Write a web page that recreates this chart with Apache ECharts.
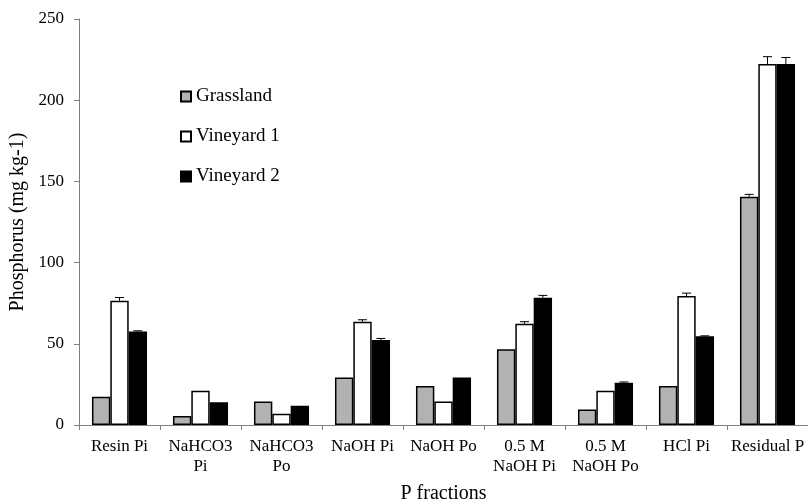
<!DOCTYPE html>
<html>
<head>
<meta charset="utf-8">
<script src="https://cdn.jsdelivr.net/npm/echarts@6/dist/echarts.min.js"></script>
<style>
    html, body { margin: 0; padding: 0; background: #fff; }
    #chart { width: 808px; height: 504px; }
</style>
</head>
<body>
<div id="chart"></div>
<script>
// P fractions
var categories = ["Resin Pi", "NaHCO3\nPi", "NaHCO3\nPo", "NaOH Pi", "NaOH Po",
    "0.5 M\nNaOH Pi", "0.5 M\nNaOH Po", "HCl Pi", "Residual P"];
var seriesNames = ["Grassland", "Vineyard 1", "Vineyard 2"];
var grassland = [17.4, 5.5, 14.4, 29.3, 24.0, 46.6, 9.6, 24.0, 140.6];
var vineyard1 = [76.5, 21.1, 7.0, 63.6, 14.4, 62.4, 21.1, 79.4, 222.3];
var vineyard2 = [57.5, 14.0, 11.9, 52.3, 29.3, 78.4, 26.0, 54.6, 222.3];
// error bars (upper only)
var grasslandErr = [0, 0, 0, 0, 0, 0, 0, 0, 1.4];
var vineyard1Err = [2.0, 0, 0, 1.2, 0, 1.2, 0, 1.8, 4.5];
var vineyard2Err = [0.5, 0, 0, 1.0, 0, 1.4, 0.5, 0.3, 4.0];
var yTicks = [0, 50, 100, 150, 200, 250];

(function () {
    var myChart = echarts.init(document.getElementById("chart"));
    var font = "Liberation Serif";
    var colors = ["#b2b2b2", "#ffffff", "#000000"];
    var values = [grassland, vineyard1, vineyard2];
    var errs = [grasslandErr, vineyard1Err, vineyard2Err];
    var catGap = 0.32;

    var series = [];
    values.forEach(function (vals, i) {
        series.push({
            name: seriesNames[i],
            type: "bar",
            data: vals,
            barGap: "0%",
            barCategoryGap: "32%",
            itemStyle: { color: colors[i], borderColor: "#000", borderWidth: 1.5 }
        });
    });
    // 误差线
    values.forEach(function (vals, i) {
        var data = [];
        vals.forEach(function (v, j) {
            if (errs[i][j] > 0) data.push([j, v, v + errs[i][j]]);
        });
        series.push({
            type: "custom",
            z: 5,
            silent: true,
            data: data,
            encode: { x: 0, y: 2 },
            renderItem: function (params, api) {
                var band = api.size([1, 0])[0];
                var bw = band * (1 - catGap) / 3;
                var base = api.coord([api.value(0), api.value(1)]);
                var top = api.coord([api.value(0), api.value(2)]);
                var x = base[0] + (i - 1) * bw;
                var style = { stroke: "#000", lineWidth: 1 };
                return {
                    type: "group",
                    children: [
                        { type: "line", shape: { x1: x, y1: base[1], x2: x, y2: top[1] }, style: style },
                        { type: "line", shape: { x1: x - 4.5, y1: top[1], x2: x + 4.5, y2: top[1] }, style: style }
                    ]
                };
            }
        });
    });

    var option = {
        animation: false,
        backgroundColor: "#fff",
        textStyle: { fontFamily: font, color: "#000" },
        grid: { left: 79, right: 0, top: 19, bottom: 79, containLabel: false, outerBoundsMode: "none" },
        legend: {
            data: seriesNames,
            orient: "vertical",
            left: 175,
            top: 82,
            itemWidth: 10,
            itemHeight: 10,
            itemGap: 21,
            icon: "rect",
            textStyle: { fontFamily: font, fontSize: 19, color: "#000" }
        },
        xAxis: {
            type: "category",
            data: categories,
            name: "P fractions",
            nameLocation: "middle",
            nameGap: 59,
            nameTextStyle: { fontFamily: font, fontSize: 20, color: "#000" },
            axisLine: { lineStyle: { color: "#808080", width: 1 } },
            axisTick: { show: true, length: 5, lineStyle: { color: "#808080" } },
            axisLabel: { interval: 0, fontFamily: font, fontSize: 17, color: "#000", lineHeight: 20, margin: 12 }
        },
        yAxis: {
            type: "value",
            min: yTicks[0],
            max: yTicks[yTicks.length - 1],
            interval: yTicks[1] - yTicks[0],
            name: "Phosphorus (mg kg-1)",
            nameLocation: "middle",
            nameGap: 49,
            nameTextStyle: { fontFamily: font, fontSize: 20, color: "#000" },
            axisLine: { show: true, lineStyle: { color: "#808080", width: 1 } },
            axisTick: { show: true, length: 5, lineStyle: { color: "#808080" } },
            axisLabel: { fontFamily: font, fontSize: 17, color: "#000", margin: 15 },
            splitLine: { show: false }
        },
        series: series
    };
    myChart.setOption(option);
})();
</script>
</body>
</html>
